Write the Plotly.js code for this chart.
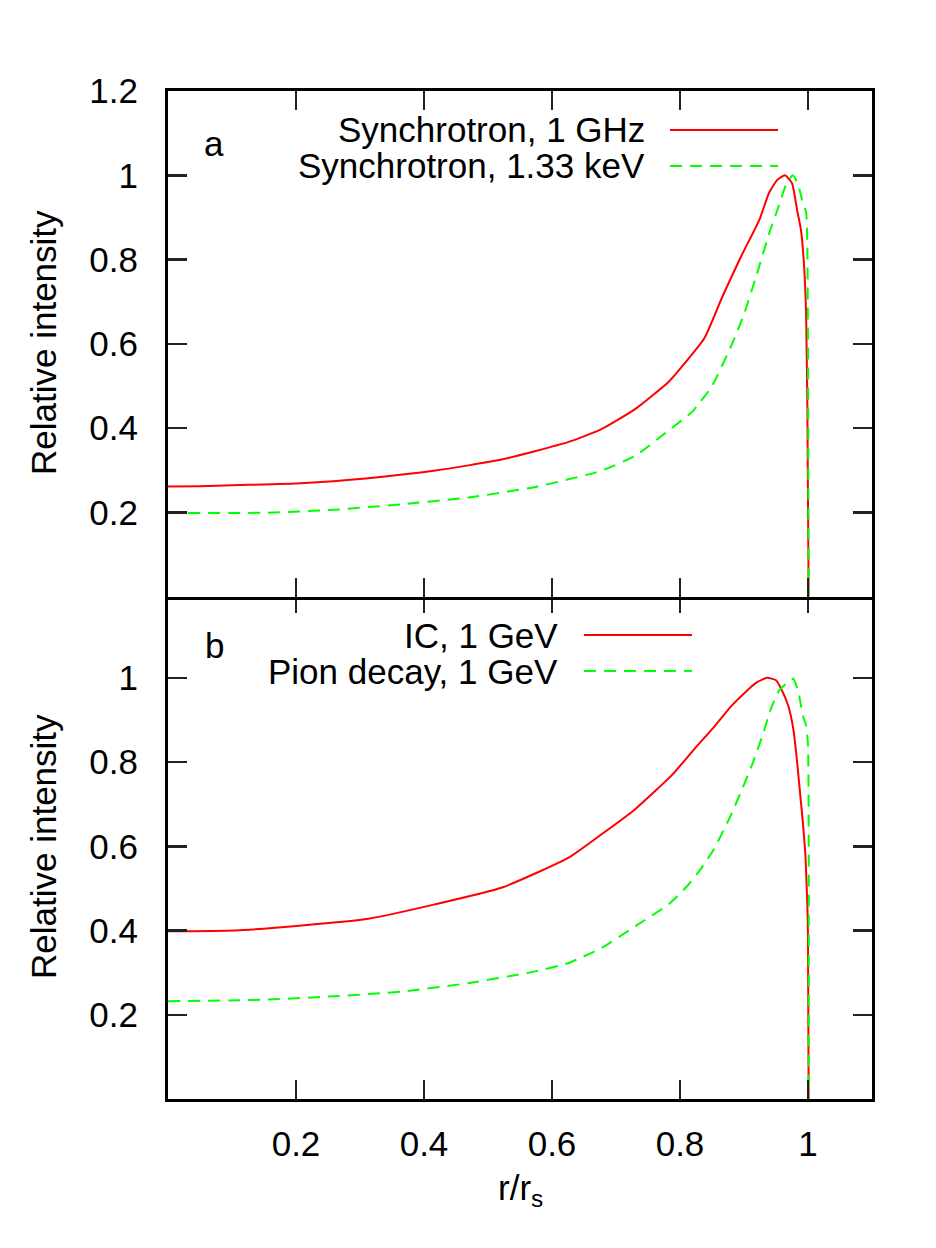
<!DOCTYPE html>
<html>
<head>
<meta charset="utf-8">
<script src="https://cdn.plot.ly/plotly-3.0.1.min.js"></script>
<style>
  html, body { margin: 0; padding: 0; background: #fff; }
  #chart { width: 936px; height: 1248px; }
</style>
</head>
<body>
<div id="chart"></div>
<script>
// Panel a: synchrotron profiles
const rSync1GHz = [0, 0.05, 0.125, 0.208, 0.313, 0.418, 0.521, 0.626, 0.678, 0.731, 0.782, 0.801, 0.838, 0.866, 0.895, 0.924, 0.939, 0.952, 0.964, 0.975, 0.983, 0.989, 0.994, 0.997, 0.999, 1.001];
const sync1GHz  = [0.261, 0.262, 0.265, 0.269, 0.281, 0.299, 0.325, 0.367, 0.398, 0.446, 0.509, 0.542, 0.613, 0.711, 0.806, 0.894, 0.958, 0.989, 1.0, 0.981, 0.917, 0.87, 0.782, 0.672, 0.45, 0];

const rSyncKeV = [0, 0.156, 0.261, 0.365, 0.47, 0.574, 0.678, 0.731, 0.782, 0.82, 0.85, 0.88, 0.90, 0.92, 0.94, 0.955, 0.965, 0.976, 0.984, 0.992, 0.997, 0.999, 1.001];
const syncKeV  = [0.198, 0.199, 0.206, 0.219, 0.235, 0.26, 0.299, 0.335, 0.394, 0.44, 0.50, 0.595, 0.67, 0.765, 0.865, 0.93, 0.975, 1.0, 0.981, 0.934, 0.913, 0.822, 0];

// Panel b: inverse Compton and pion decay profiles
const rIC = [0, 0.104, 0.209, 0.313, 0.417, 0.522, 0.626, 0.678, 0.73, 0.788, 0.827, 0.853, 0.879, 0.905, 0.921, 0.936, 0.95, 0.958, 0.969, 0.977, 0.982, 0.987, 0.992, 0.996, 0.999, 1.0, 1.001];
const icGeV = [0.398, 0.4, 0.412, 0.428, 0.462, 0.502, 0.573, 0.629, 0.688, 0.77, 0.839, 0.883, 0.931, 0.97, 0.99, 1.0, 0.994, 0.974, 0.934, 0.879, 0.815, 0.736, 0.656, 0.577, 0.458, 0.379, 0];

const rPion = [0, 0.156, 0.261, 0.365, 0.469, 0.574, 0.626, 0.678, 0.73, 0.782, 0.811, 0.832, 0.853, 0.879, 0.895, 0.913, 0.929, 0.942, 0.955, 0.969, 0.977, 0.985, 0.992, 0.997, 1.0, 1.001];
const pionGeV = [0.232, 0.236, 0.244, 0.255, 0.275, 0.303, 0.323, 0.359, 0.41, 0.462, 0.505, 0.545, 0.593, 0.672, 0.728, 0.795, 0.863, 0.926, 0.97, 0.99, 0.998, 0.966, 0.91, 0.887, 0.839, 0];

const xTicks = [0.2, 0.4, 0.6, 0.8, 1];
const xTickText = ['0.2', '0.4', '0.6', '0.8', '1'];
const yTicksTop = [0.2, 0.4, 0.6, 0.8, 1, 1.2];
const yTickTextTop = ['0.2', '0.4', '0.6', '0.8', '1', '1.2'];
const yTicksBottom = [0.2, 0.4, 0.6, 0.8, 1];
const yTickTextBottom = ['0.2', '0.4', '0.6', '0.8', '1'];

const legendTop = ['Synchrotron, 1 GHz', 'Synchrotron, 1.33 keV'];
const legendBottom = ['IC, 1 GeV', 'Pion decay, 1 GeV'];
const panelLabels = ['a', 'b'];
const yTitle = 'Relative intensity';
const xTitle = 'r/r<sub>s</sub>';

const RED = '#ff0000';
const GREEN = '#00ff00';
const FONT = 'Liberation Sans, Arial, Helvetica, sans-serif';
const FS = 35;

const solid = {color: RED, width: 2};
const dashed = {color: GREEN, width: 2, dash: '12px,8px'};
const solidCurve = Object.assign({shape: 'spline', smoothing: 0.5}, solid);
const dashedCurve = Object.assign({shape: 'spline', smoothing: 0.5}, dashed);

const traces = [
  {x: rSync1GHz, y: sync1GHz, xaxis: 'x2', yaxis: 'y2', mode: 'lines', line: solidCurve, name: legendTop[0]},
  {x: rSyncKeV, y: syncKeV, xaxis: 'x2', yaxis: 'y2', mode: 'lines', line: dashedCurve, name: legendTop[1]},
  {x: rIC, y: icGeV, xaxis: 'x', yaxis: 'y', mode: 'lines', line: solidCurve, name: legendBottom[0]},
  {x: rPion, y: pionGeV, xaxis: 'x', yaxis: 'y', mode: 'lines', line: dashedCurve, name: legendBottom[1]}
];

const frame = {
  showline: true, linewidth: 3, linecolor: '#000', mirror: 'ticks',
  ticks: 'inside', ticklen: 19, tickwidth: 2.5, tickcolor: '#222',
  showgrid: false, zeroline: false,
  tickfont: {family: FONT, size: FS, color: '#000'}
};

// Plot area in pixels: left 168, right 872, top 91, bottom 1099
const L = 168, R = 872, T = 91, B = 1099;
const px = v => (v - L) / (R - L);
const py = v => (B - v) / (B - T);
// the two panels overlap by one frame-line width so their shared edge is a single line
const seam = 1.5 / (B - T);

function keyText(text, xr, yp) {
  return {text: text, xref: 'paper', yref: 'paper', x: px(xr), y: py(yp),
          xanchor: 'right', yanchor: 'middle', showarrow: false,
          font: {family: FONT, size: FS, color: '#000'}};
}
function keyLine(x0, x1, yp, line) {
  return {type: 'line', xref: 'paper', yref: 'paper',
          x0: px(x0), x1: px(x1), y0: py(yp), y1: py(yp), line: line};
}

const layout = {
  width: 936, height: 1248,
  margin: {l: L, r: 936 - R, t: T, b: 1248 - B},
  paper_bgcolor: '#fff', plot_bgcolor: '#fff',
  showlegend: false,
  font: {family: FONT, size: FS, color: '#000'},
  xaxis: Object.assign({}, frame, {domain: [0, 1], range: [0, 1.1], anchor: 'y',
          tickvals: xTicks, ticktext: xTickText, ticklabelstandoff: 12}),
  xaxis2: Object.assign({}, frame, {domain: [0, 1], range: [0, 1.1], anchor: 'y2', matches: 'x',
          tickvals: xTicks, showticklabels: false}),
  yaxis: Object.assign({}, frame, {domain: [0, 0.5 + seam], range: [0, 1.2], anchor: 'x',
          tickvals: yTicksBottom, ticktext: yTickTextBottom, ticklabelstandoff: 20}),
  yaxis2: Object.assign({}, frame, {domain: [0.5 - seam, 1], range: [0, 1.2], anchor: 'x2',
          tickvals: yTicksTop, ticktext: yTickTextTop, ticklabelstandoff: 20}),
  annotations: [
    keyText(legendTop[0], 647, 130),
    keyText(legendTop[1], 647, 166),
    keyText(legendBottom[0], 560, 635),
    keyText(legendBottom[1], 560, 671),
    {text: panelLabels[0], xref: 'paper', yref: 'paper', x: px(214), y: py(143),
     xanchor: 'center', yanchor: 'middle', showarrow: false, font: {family: FONT, size: FS}},
    {text: panelLabels[1], xref: 'paper', yref: 'paper', x: px(214), y: py(645),
     xanchor: 'center', yanchor: 'middle', showarrow: false, font: {family: FONT, size: FS}},
    {text: yTitle, xref: 'paper', yref: 'paper', x: px(43), y: 0.75, textangle: -90,
     xanchor: 'center', yanchor: 'middle', showarrow: false, font: {family: FONT, size: FS}},
    {text: yTitle, xref: 'paper', yref: 'paper', x: px(43), y: 0.25, textangle: -90,
     xanchor: 'center', yanchor: 'middle', showarrow: false, font: {family: FONT, size: FS}},
    {text: xTitle, xref: 'paper', yref: 'paper', x: px(520), y: py(1190),
     xanchor: 'center', yanchor: 'middle', showarrow: false, font: {family: FONT, size: FS}}
  ],
  shapes: [
    keyLine(670, 778, 130, solid),
    keyLine(670, 778, 166, dashed),
    keyLine(584, 692, 635, solid),
    keyLine(584, 692, 671, dashed)
  ]
};

Plotly.newPlot('chart', traces, layout, {displayModeBar: false, staticPlot: true});
</script>
</body>
</html>
